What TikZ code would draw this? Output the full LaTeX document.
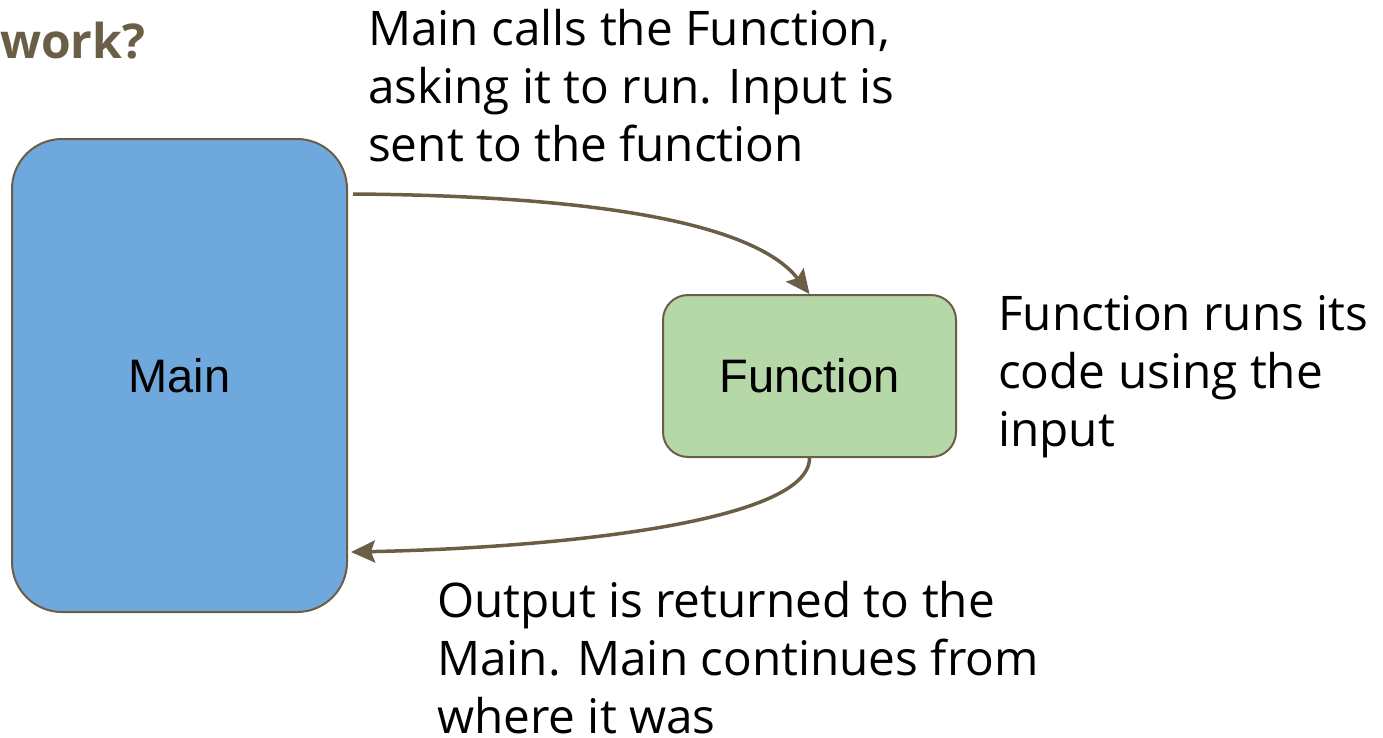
\documentclass[tikz,border=0pt]{standalone}
\usepackage{fontspec}
\setmainfont{Open Sans}
\newfontfamily\arialfont{Liberation Sans}
\usetikzlibrary{arrows.meta,calc}
\definecolor{brn}{HTML}{6B5E47}
\definecolor{mainblue}{HTML}{6FA8DC}
\definecolor{fngreen}{HTML}{B6D7A8}
\tikzset{
  box/.style={draw=brn, line width=2pt, font=\arialfont\fontsize{47}{50}\selectfont, text=black, inner sep=0pt},
  conn/.style={draw=brn, line width=3.5pt, -{Stealth[length=24pt,width=22pt,inset=4pt]}},
  note/.style={font=\fontsize{47.7}{58}\selectfont, align=left, anchor=base west, inner sep=0pt, text=black},
}
\begin{document}
\begin{tikzpicture}[x=1pt,y=-1pt]
\useasboundingbox (0,0) rectangle (1383,737);
\node[box, fill=mainblue, minimum width=335pt, minimum height=473pt, rounded corners=50pt] (main) at (179.5,375.5) {Main};
\node[box, fill=fngreen, minimum width=293pt, minimum height=162pt, rounded corners=25pt] (func) at (809.5,376) {Function};
\node[font=\bfseries\fontsize{48}{58}\selectfont, text=brn, anchor=base west, inner sep=0pt] (title) at (0,58) {work?};
\node[note] (n1) at (368,161) {Main calls the Function,\\asking it to run. Input is\\sent to the function};
\node[note] (n2) at (998,446) {Function runs its\\code using the\\input};
\node[note] (n3) at (437,733) {Output is returned to the\\Main. Main continues from\\where it was};
\coordinate (s1) at ($(main.north east)+(5,56)$);
\coordinate (e2) at ($(main.east)+(3,176.5)$);
\draw[conn] (s1) .. controls ($(s1)+(270,2)$) and ($(func.north)+(-50,-65)$) .. (func.north);
\draw[conn] (func.south) .. controls ($(func.south)+(0,65)$) and ($(e2)+(200,-4)$) .. (e2);
\end{tikzpicture}
\end{document}
